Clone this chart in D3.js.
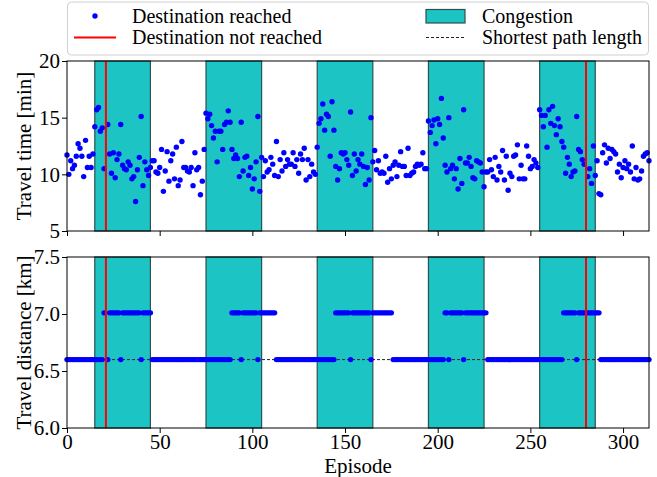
<!DOCTYPE html>
<html>
<head>
<meta charset="utf-8">
<script src="https://cdn.jsdelivr.net/npm/d3@7"></script>
<style>
body{margin:0;background:#fff;}
.chart{width:657px;height:477px;}
svg{font-family:"Liberation Serif","Times New Roman",serif;}
</style>
</head>
<body>
<div class="chart"></div>
<script>
//Data: one value per episode (null = destination not reached)
const travelTime = [
	11.7,10.0,11.2,10.5,10.8,11.6,12.7,12.3,11.6,9.8,
	13.0,10.6,11.6,10.6,11.8,14.2,15.7,15.9,13.8,14.1,
	10.5,null,14.4,11.8,10.1,11.9,9.7,11.3,11.8,14.4,
	10.8,10.5,10.4,11.1,10.8,9.6,9.8,7.6,10.4,11.5,
	15.1,9.0,11.1,10.4,9.9,10.6,11.2,11.2,10.2,10.1,
	10.6,12.2,8.5,10.3,12.0,9.4,11.2,11.8,9.6,12.4,
	9.0,9.5,12.9,10.6,10.6,10.3,10.2,10.6,9.0,11.9,
	10.4,10.6,8.2,9.4,12.2,15.4,14.9,15.3,14.3,13.2,
	13.8,11.1,13.8,13.8,12.2,14.4,14.6,15.6,14.6,12.2,
	11.4,11.7,11.4,9.8,14.6,10.3,11.5,11.6,9.9,10.6,
	8.7,9.6,11.1,15.1,8.5,11.5,9.8,11.2,10.2,10.4,
	11.5,10.9,9.9,12.9,9.8,11.3,10.3,11.9,10.7,11.3,
	10.9,10.9,11.9,10.7,11.3,10.1,11.8,11.3,12.3,9.5,
	11.3,9.8,10.9,10.2,10.0,12.4,14.5,14.9,16.2,13.9,
	15.3,15.1,11.6,16.4,13.9,10.7,9.5,10.5,11.9,11.8,
	11.9,11.3,10.8,15.5,9.9,11.8,10.3,11.3,10.9,11.8,
	10.7,9.1,10.6,9.5,15.0,11.1,12.1,10.4,11.2,10.1,
	10.2,10.1,11.6,9.3,10.5,9.6,10.8,11.1,9.8,10.8,
	12.0,10.7,10.7,9.9,12.3,9.9,10.1,10.2,10.7,10.9,
	10.8,10.9,11.9,10.5,10.5,14.7,13.7,14.3,14.8,12.7,
	14.9,14.4,16.7,13.2,10.8,10.2,15.0,10.5,10.8,9.6,
	10.5,8.7,11.4,9.2,15.7,11.0,11.0,11.5,10.7,9.7,
	9.6,11.2,11.1,11.0,10.2,8.9,10.2,10.2,11.3,10.4,
	9.8,11.5,9.5,10.7,10.2,12.1,9.5,11.6,8.6,10.1,
	9.8,11.6,11.7,12.6,9.6,10.8,9.6,9.6,12.5,11.6,
	10.5,10.7,11.3,11.0,10.6,15.7,15.2,14.2,15.2,12.4,
	15.7,14.5,16.0,14.3,13.5,14.9,14.2,12.9,12.4,10.1,
	11.5,10.9,9.8,10.2,10.3,15.1,12.2,12.0,11.3,10.9,
	null,9.8,10.5,9.2,12.5,9.9,11.2,8.3,8.2,11.9,
	12.6,11.0,12.3,11.4,12.2,12.0,11.8,10.2,10.9,9.7,
	10.6,11.2,10.5,10.9,10.2,12.5,9.6,10.6,9.5,9.6,
	10.3,11.6,11.8,11.9,11.2
];

const travelDistance = [
	6.6,6.6,6.6,6.6,6.6,6.6,6.6,6.6,6.6,6.6,
	6.6,6.6,6.6,6.6,6.6,6.6,6.6,6.6,6.6,6.6,
	7.01,null,6.6,7.01,7.01,7.01,7.01,7.01,7.01,6.6,
	7.01,7.01,7.01,7.01,7.01,7.01,7.01,7.01,7.01,7.01,
	6.6,7.01,7.01,7.01,7.01,7.01,6.6,6.6,6.6,6.6,
	6.6,6.6,6.6,6.6,6.6,6.6,6.6,6.6,6.6,6.6,
	6.6,6.6,6.6,6.6,6.6,6.6,6.6,6.6,6.6,6.6,
	6.6,6.6,6.6,6.6,6.6,6.6,6.6,6.6,6.6,6.6,
	6.6,6.6,6.6,6.6,6.6,6.6,6.6,6.6,6.6,7.01,
	7.01,7.01,7.01,7.01,6.6,7.01,7.01,7.01,7.01,7.01,
	7.01,7.01,7.01,6.6,7.01,7.01,7.01,7.01,7.01,7.01,
	7.01,7.01,7.01,6.6,6.6,6.6,6.6,6.6,6.6,6.6,
	6.6,6.6,6.6,6.6,6.6,6.6,6.6,6.6,6.6,6.6,
	6.6,6.6,6.6,6.6,6.6,6.6,6.6,6.6,6.6,6.6,
	6.6,6.6,6.6,6.6,6.6,7.01,7.01,7.01,7.01,7.01,
	7.01,7.01,7.01,6.6,7.01,7.01,7.01,7.01,7.01,7.01,
	7.01,7.01,7.01,7.01,6.6,7.01,7.01,7.01,7.01,7.01,
	7.01,7.01,7.01,7.01,7.01,7.01,6.6,6.6,6.6,6.6,
	6.6,6.6,6.6,6.6,6.6,6.6,6.6,6.6,6.6,6.6,
	6.6,6.6,6.6,6.6,6.6,6.6,6.6,6.6,6.6,6.6,
	6.6,6.6,6.6,6.6,7.01,7.01,6.6,7.01,7.01,7.01,
	7.01,7.01,7.01,7.01,6.6,7.01,7.01,7.01,7.01,7.01,
	7.01,7.01,7.01,7.01,7.01,7.01,7.01,6.6,6.6,6.6,
	6.6,6.6,6.6,6.6,6.6,6.6,6.6,6.6,6.6,6.6,
	6.6,6.6,6.6,6.6,6.6,6.6,6.6,6.6,6.6,6.6,
	6.6,6.6,6.6,6.6,6.6,6.6,6.6,6.6,6.6,6.6,
	6.6,6.6,6.6,6.6,6.6,6.6,6.6,6.6,7.01,7.01,
	7.01,7.01,7.01,7.01,7.01,6.6,7.01,7.01,7.01,7.01,
	null,7.01,7.01,7.01,7.01,7.01,7.01,7.01,6.6,6.6,
	6.6,6.6,6.6,6.6,6.6,6.6,6.6,6.6,6.6,6.6,
	6.6,6.6,6.6,6.6,6.6,6.6,6.6,6.6,6.6,6.6,
	6.6,6.6,6.6,6.6,6.6
];

const congestionStart = [15, 75, 135, 195, 255];
const congestionEnd = [45, 105, 165, 225, 285];
const failedEpisodes = [21, 280];
const shortestPathLength = 6.6;

const xDomain = [0, 314];
const xTicks = [0, 50, 100, 150, 200, 250, 300];
const timeDomain = [5, 20];
const timeTicks = [5, 10, 15, 20];
const distDomain = [6.0, 7.5];
const distTicks = [6.0, 6.5, 7.0, 7.5];

//Layout
const W = 657, H = 477;
const left = 67, right = 649;
const panels = {
	time: {top: 61, bottom: 231},
	dist: {top: 257, bottom: 428}
};
const TEAL = '#1cc4c4';
const BLUE = '#0000ff';

const svg = d3.select('.chart')
	.append('svg')
		.attr('width', W)
		.attr('height', H);

const scaleX = d3.scaleLinear().domain(xDomain).range([left, right]);
const scaleTime = d3.scaleLinear().domain(timeDomain).range([panels.time.bottom, panels.time.top]);
const scaleDist = d3.scaleLinear().domain(distDomain).range([panels.dist.bottom, panels.dist.top]);

const congestion = congestionStart.map(function(d, i){ return {start: d, end: congestionEnd[i]}; });

function drawPanel(g, scaleY, panel, values, opts){

	//Congestion bands
	g.selectAll('.band')
		.data(congestion)
		.enter()
		.append('rect').attr('class', 'band')
		.attr('x', function(d){ return scaleX(d.start); })
		.attr('width', function(d){ return scaleX(d.end) - scaleX(d.start); })
		.attr('y', panel.top)
		.attr('height', panel.bottom - panel.top)
		.style('fill', TEAL)
		.style('stroke', '#2f4f4f')
		.style('stroke-width', 1.2);

	if(opts.shortest){
		g.append('line')
			.attr('x1', left).attr('x2', right)
			.attr('y1', scaleY(shortestPathLength)).attr('y2', scaleY(shortestPathLength))
			.style('stroke', '#222')
			.style('stroke-width', 1)
			.style('stroke-dasharray', '3,2');
	}

	const pts = values
		.map(function(v, i){ return {ep: i, v: v}; })
		.filter(function(d){ return d.v !== null; });

	g.selectAll('.pt')
		.data(pts)
		.enter()
		.append('circle').attr('class', 'pt')
		.attr('cx', function(d){ return scaleX(d.ep); })
		.attr('cy', function(d){ return scaleY(d.v); })
		.attr('r', 2.7)
		.style('fill', BLUE);

	//Failed episodes
	g.selectAll('.fail')
		.data(failedEpisodes)
		.enter()
		.append('line').attr('class', 'fail')
		.attr('x1', function(d){ return scaleX(d); })
		.attr('x2', function(d){ return scaleX(d); })
		.attr('y1', panel.top)
		.attr('y2', panel.bottom)
		.style('stroke', '#ff0000')
		.style('stroke-width', 2);

	//Frame
	g.append('rect')
		.attr('x', left).attr('y', panel.top)
		.attr('width', right - left).attr('height', panel.bottom - panel.top)
		.style('fill', 'none')
		.style('stroke', '#000')
		.style('stroke-width', 1);

	//Axes
	const axisY = d3.axisLeft(scaleY)
		.tickValues(opts.yTicks)
		.tickFormat(opts.yFormat)
		.tickSize(5)
		.tickPadding(2);
	const gy = g.append('g')
		.attr('transform', `translate(${left},0)`)
		.call(axisY);

	const axisX = d3.axisBottom(scaleX)
		.tickValues(xTicks)
		.tickSize(5)
		.tickPadding(1)
		.tickFormat(opts.xLabels ? d3.format('d') : '');
	const gx = g.append('g')
		.attr('transform', `translate(0,${panel.bottom})`)
		.call(axisX);

	[gx, gy].forEach(function(a){
		a.select('.domain').remove();
		a.selectAll('text')
			.style('font-family', '"Liberation Serif","Times New Roman",serif')
			.style('font-size', '21px')
			.style('fill', '#000');
		a.selectAll('line').style('stroke', '#000');
	});

	g.append('text')
		.attr('transform', `translate(31,${(panel.top + panel.bottom) / 2}) rotate(-90)`)
		.attr('text-anchor', 'middle')
		.style('font-size', '21px')
		.text(opts.label);
}

drawPanel(svg.append('g').attr('class', 'plot-time'), scaleTime, panels.time, travelTime, {
	yTicks: timeTicks,
	yFormat: d3.format('d'),
	xLabels: false,
	shortest: false,
	label: 'Travel time [min]'
});

drawPanel(svg.append('g').attr('class', 'plot-dist'), scaleDist, panels.dist, travelDistance, {
	yTicks: distTicks,
	yFormat: d3.format('.1f'),
	xLabels: true,
	shortest: true,
	label: 'Travel distance [km]'
});

svg.append('text')
	.attr('x', (left + right) / 2)
	.attr('y', 472.5)
	.attr('text-anchor', 'middle')
	.style('font-size', '21px')
	.text('Episode');

//Legend
const legend = svg.append('g').attr('class', 'legend');
legend.append('rect')
	.attr('x', 67.5).attr('y', 2)
	.attr('width', 581).attr('height', 53)
	.attr('rx', 4)
	.style('fill', '#fff')
	.style('fill-opacity', 0.8)
	.style('stroke', '#d0d0d0');

legend.append('circle')
	.attr('cx', 95).attr('cy', 16).attr('r', 2.7)
	.style('fill', BLUE);
legend.append('line')
	.attr('x1', 74).attr('x2', 116).attr('y1', 37.5).attr('y2', 37.5)
	.style('stroke', '#ff0000').style('stroke-width', 2);
legend.append('rect')
	.attr('x', 426).attr('y', 9.5).attr('width', 39).attr('height', 13.5)
	.style('fill', TEAL).style('stroke', '#2f4f4f').style('stroke-width', 1.2);
legend.append('line')
	.attr('x1', 426).attr('x2', 465).attr('y1', 37.5).attr('y2', 37.5)
	.style('stroke', '#222').style('stroke-width', 1).style('stroke-dasharray', '3,2');

const legendTexts = [
	{x: 132, y: 23, t: 'Destination reached'},
	{x: 132, y: 44, t: 'Destination not reached'},
	{x: 482, y: 23, t: 'Congestion'},
	{x: 482, y: 44, t: 'Shortest path length'}
];
legend.selectAll('.ltext')
	.data(legendTexts)
	.enter()
	.append('text').attr('class', 'ltext')
	.attr('x', function(d){ return d.x; })
	.attr('y', function(d){ return d.y; })
	.style('font-size', '20px')
	.text(function(d){ return d.t; });
</script>
</body>
</html>
